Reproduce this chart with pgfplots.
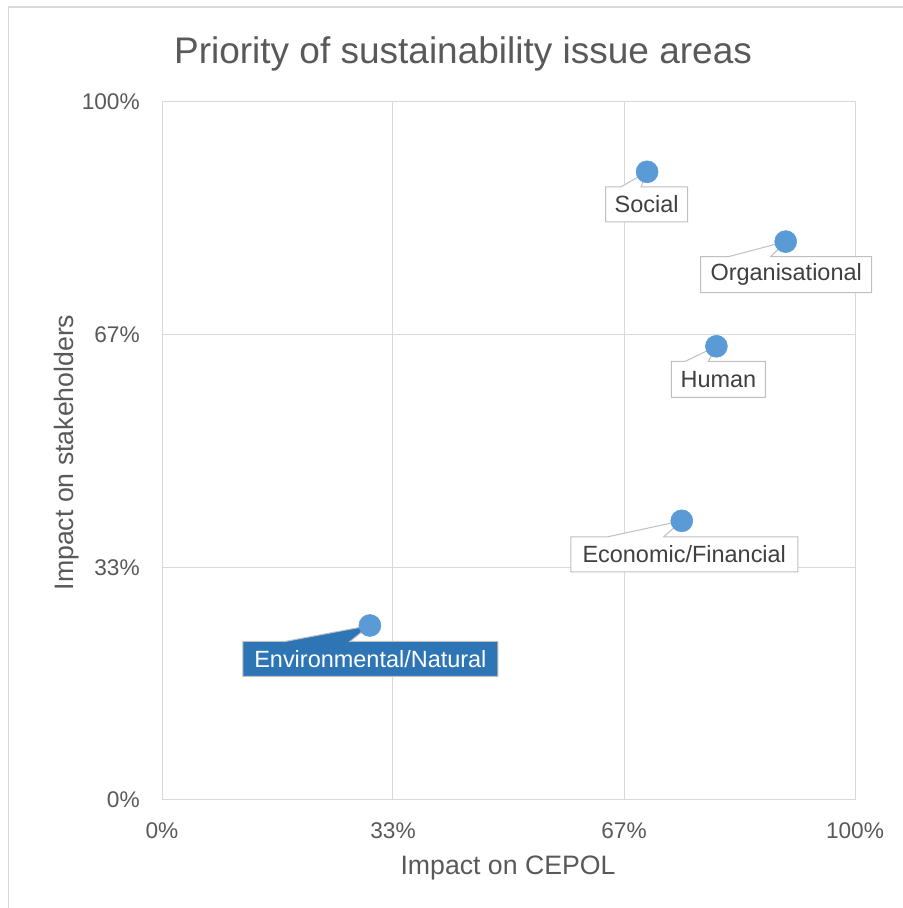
\documentclass[border=0pt]{standalone}
\usepackage{fontspec}
\setmainfont{Liberation Sans}
\usepackage{pgfplots}
\pgfplotsset{compat=1.18}
\definecolor{gridgray}{HTML}{D9D9D9}
\definecolor{textgray}{HTML}{595959}
\definecolor{labgray}{HTML}{404040}
\definecolor{boxgray}{HTML}{BFBFBF}
\definecolor{mkblue}{HTML}{5B9BD5}
\definecolor{envblue}{HTML}{2E75B6}
\begin{document}
\begin{tikzpicture}
\useasboundingbox (0pt,0pt) rectangle (677.25pt,681pt);
\draw[gridgray, line width=0.9pt] (6.375pt,0pt) -- (6.375pt,675.75pt) -- (677.25pt,675.75pt);
\node[anchor=base, text=textgray, font=\fontsize{27.75pt}{32pt}\selectfont, inner sep=0pt] at (347.25pt,633.5pt) {Priority of sustainability issue areas};
\node[anchor=base, text=textgray, font=\fontsize{20pt}{24pt}\selectfont, inner sep=0pt] at (381pt,24.75pt) {Impact on CEPOL};
\node[anchor=base, rotate=90, text=textgray, font=\fontsize{20pt}{24pt}\selectfont, inner sep=0pt] at (55pt,341.6pt) {Impact on stakeholders};
\begin{axis}[
  at={(121.5pt,81pt)}, anchor=south west, scale only axis,
  width=519.75pt, height=523.5pt,
  xmin=0, xmax=1, ymin=0, ymax=1,
  xtick={0,0.33333,0.66667,1}, ytick={0,0.33333,0.66667,1},
  xticklabels={0\%,33\%,67\%,100\%}, yticklabels={0\%,33\%,67\%,100\%},
  grid=major, grid style={gridgray, line width=0.75pt},
  axis line style={gridgray, line width=0.75pt},
  major tick length=0pt,
  tick label style={font=\fontsize{17pt}{20pt}\selectfont, text=textgray},
  xticklabel style={anchor=base, inner sep=0pt, yshift=-28.5pt},
  yticklabel style={anchor=east, inner sep=0pt, xshift=-16.5pt},
  clip=false,
]
\addplot[only marks, mark=*, mark size=8.25pt, mark options={fill=mkblue, draw=mkblue}] coordinates {
  (0.70,0.90) (0.90,0.80) (0.80,0.65) (0.75,0.40) (0.30,0.25)
};
% Social
\draw[boxgray, fill=white, line width=0.75pt] (axis cs:0.70,0.90) -- +(-19.5pt,-11.25pt) -- +(-31.125pt,-11.25pt) -- +(-31.125pt,-37.5pt) -- +(30.375pt,-37.5pt) -- +(30.375pt,-11.25pt) -- +(-4.5pt,-11.25pt) -- cycle;
\path (axis cs:0.70,0.90) ++(-0.375pt,-24.375pt) node[text=labgray, font=\fontsize{17.6pt}{20pt}\selectfont, inner sep=0pt] {Social};
% Organisational
\draw[boxgray, fill=white, line width=0.75pt] (axis cs:0.90,0.80) -- +(-42.75pt,-11.25pt) -- +(-63.75pt,-11.25pt) -- +(-63.75pt,-38.25pt) -- +(64.5pt,-38.25pt) -- +(64.5pt,-11.25pt) -- +(-11.25pt,-11.25pt) -- cycle;
\path (axis cs:0.90,0.80) ++(0.375pt,-24.75pt) node[text=labgray, font=\fontsize{17.6pt}{20pt}\selectfont, inner sep=0pt] {Organisational};
% Human
\draw[boxgray, fill=white, line width=0.75pt] (axis cs:0.80,0.65) -- +(-23.25pt,-11.25pt) -- +(-33.75pt,-11.25pt) -- +(-33.75pt,-38.25pt) -- +(36.75pt,-38.25pt) -- +(36.75pt,-11.25pt) -- +(-6pt,-11.25pt) -- cycle;
\path (axis cs:0.80,0.65) ++(1.5pt,-24.75pt) node[text=labgray, font=\fontsize{17.6pt}{20pt}\selectfont, inner sep=0pt] {Human};
% Economic/Financial
\draw[boxgray, fill=white, line width=0.75pt] (axis cs:0.75,0.40) -- +(-55.5pt,-12pt) -- +(-83.25pt,-12pt) -- +(-83.25pt,-38.25pt) -- +(87pt,-38.25pt) -- +(87pt,-12pt) -- +(-13.5pt,-12pt) -- cycle;
\path (axis cs:0.75,0.40) ++(1.875pt,-25.125pt) node[text=labgray, font=\fontsize{17.6pt}{20pt}\selectfont, inner sep=0pt] {Economic/Financial};
% Environmental/Natural
\draw[boxgray, fill=envblue, line width=0.75pt] (axis cs:0.30,0.25) -- +(-63.75pt,-12pt) -- +(-95.25pt,-12pt) -- +(-95.25pt,-38.25pt) -- +(96pt,-38.25pt) -- +(96pt,-12pt) -- +(-15pt,-12pt) -- cycle;
\path (axis cs:0.30,0.25) ++(0.375pt,-25.125pt) node[text=white, font=\fontsize{17.6pt}{20pt}\selectfont, inner sep=0pt] {Environmental/Natural};
\end{axis}
\end{tikzpicture}
\end{document}
